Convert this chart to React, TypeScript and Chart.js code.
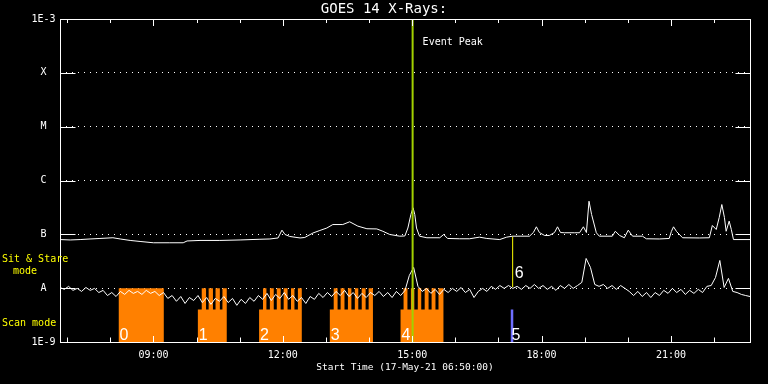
import React, { useEffect, useRef } from 'react';
import { Chart, registerables } from 'chart.js';

Chart.register(...registerables);

// ---------- text ----------
const TITLE = 'GOES 14 X-Rays:';
const X_TITLE = 'Start Time (17-May-21 06:50:00)';
const EVENT_LABEL = 'Event Peak';
const SIDE_LABEL_1 = 'Sit & Stare';
const SIDE_LABEL_2 = 'mode';
const SIDE_LABEL_3 = 'Scan mode';

// ---------- axes ----------
const X_MIN = 6.8333333; // 06:50
const X_MAX = 22.8333333; // 22:50
const HOUR_TICKS = [7, 8, 9, 10, 11, 12, 13, 14, 15, 16, 17, 18, 19, 20, 21, 22];
const Y_MIN = 1e-9;
const Y_MAX = 1e-3;
const Y_TICK_VALUES = [1e-9, 1e-8, 1e-7, 1e-6, 1e-5, 1e-4, 1e-3];
const Y_TICK_LABELS = ['1E-9', 'A', 'B', 'C', 'M', 'X', '1E-3'];

// ---------- long channel (units of 1e-9 W/m^2) ----------
const LONG_TIMES = [
  6.83, 7.07, 7.30, 7.53, 7.76, 8.06, 8.23, 8.46, 8.69, 9.00,
  9.38, 9.69, 9.78, 10.08, 10.54, 11.01, 11.47, 11.70, 11.89, 11.98,
  12.05, 12.16, 12.40, 12.51, 12.70, 12.86, 13.02, 13.16, 13.39, 13.55,
  13.74, 13.95, 14.18, 14.32, 14.48, 14.71, 14.83, 14.90, 14.97, 15.02,
  15.06, 15.10, 15.17, 15.34, 15.64, 15.73, 15.82, 16.10, 16.33, 16.56,
  16.73, 17.03, 17.19, 17.33, 17.72, 17.81, 17.88, 17.95, 18.07, 18.18,
  18.30, 18.37, 18.44, 18.53, 18.76, 18.88, 18.97, 19.04, 19.10, 19.16,
  19.27, 19.34, 19.64, 19.71, 19.81, 19.92, 20.01, 20.11, 20.34, 20.43,
  20.73, 20.96, 21.01, 21.06, 21.13, 21.27, 21.66, 21.89, 21.96, 22.05,
  22.12, 22.18, 22.24, 22.28, 22.35, 22.40, 22.45, 22.84,
];
const LONG_FLUX_1E9 = [
  80, 78.6, 80, 82, 83.8, 86.4, 82, 77, 73.7, 69.7,
  69.7, 69.7, 75.3, 77, 77, 78.6, 81, 82, 85.6, 119.5,
  99.4, 91.3, 85.6, 87.5, 106, 118, 131, 152, 152, 171,
  142, 127, 126, 114, 99.4, 92.4, 93.2, 131, 234, 311,
  234, 131, 92.4, 86.4, 86.4, 99.4, 83.8, 82.7, 82.7, 88.6,
  83.8, 80, 88.6, 92.4, 92.4, 108, 138, 108, 95.3, 95.3,
  108, 138, 108, 107, 107, 107, 138, 108, 412, 234,
  107, 92.4, 92.4, 114, 95.3, 86.4, 119.5, 92.4, 92.4, 82.7,
  82, 83.8, 113, 138, 113, 86.4, 85.6, 86.4, 146, 123,
  206, 358, 206, 114, 176, 123, 80, 80,
];

// ---------- short channel, one sample every 6 minutes from 06:50 (units of 1e-9 W/m^2) ----------
const SHORT_START = 6.8333333;
const SHORT_STEP = 0.1;
const SHORT_FLUX_1E9 = [
  10.3, 9.5, 10.8, 9.1, 9.9, 8.7, 10.3, 9.1, 9.9, 8.3,
  9.1, 7.3, 8.3, 7.0, 8.7, 7.65, 9.1, 8.0, 8.7, 7.65,
  9.1, 8.0, 8.7, 7.3, 8.3, 6.45, 7.3, 5.7, 7.0, 5.2,
  6.7, 5.9, 7.3, 5.4, 6.7, 5.0, 6.45, 5.7, 7.0, 5.4,
  6.45, 4.8, 6.2, 5.2, 6.7, 5.7, 7.3, 6.2, 8.0, 5.9,
  7.65, 6.45, 8.3, 6.2, 7.3, 5.7, 6.7, 5.2, 7.0, 6.2,
  8.0, 6.7, 8.3, 7.0, 8.7, 7.3, 9.1, 7.0, 8.3, 6.45,
  8.0, 6.7, 8.3, 7.3, 8.7, 7.0, 8.3, 6.7, 8.7, 7.3,
  9.1, 17.2, 24.3, 10.8, 8.7, 9.9, 8.0, 9.5, 7.65, 9.5,
  8.3, 9.9, 8.7, 10.3, 8.3, 9.5, 6.7, 8.7, 9.9, 8.7,
  10.8, 9.5, 11.2, 9.9, 11.2, 9.9, 10.8, 9.5, 11.2, 9.9,
  11.7, 9.9, 11.2, 9.5, 10.8, 9.1, 11.2, 9.9, 11.7, 9.9,
  11.2, 12.8, 35.6, 24.3, 11.7, 10.8, 11.7, 9.9, 11.2, 9.5,
  11.2, 9.9, 8.7, 7.3, 8.7, 7.0, 8.3, 6.7, 8.3, 7.3,
  9.1, 8.0, 9.9, 8.3, 9.5, 7.65, 9.1, 8.0, 9.5, 8.3,
  10.8, 11.2, 15.8, 32.7, 10.3, 15.2, 8.7, 8.3, 7.65, 7.3,
  7.0,
];
const FLUX_UNIT = 1e-9;

// ---------- scan-mode blocks ----------
const SCAN_LABELS = ['0', '1', '2', '3', '4'];
const SCAN_START = [8.19, 10.03, 11.45, 13.09, 14.73];
const SCAN_END = [9.24, 10.70, 12.44, 14.09, 15.73];
const SCAN_BASE = [1e-8, 4e-9, 4e-9, 4e-9, 4e-9];
const SCAN_TOP = 1e-8;
const TEETH_START = [
  10.12, 10.28, 10.44, 10.60,
  11.54, 11.70, 11.86, 12.02, 12.19, 12.35,
  13.18, 13.34, 13.51, 13.67, 13.83, 13.99,
  14.80, 14.97, 15.13, 15.29, 15.45, 15.61,
];
const TEETH_END = [
  10.22, 10.38, 10.54, 10.70,
  11.62, 11.79, 11.95, 12.11, 12.27, 12.44,
  13.27, 13.43, 13.59, 13.75, 13.92, 14.09,
  14.89, 15.05, 15.21, 15.38, 15.54, 15.73,
];

// ---------- markers ----------
const MARK5_LABEL = '5';
const MARK5_START = 17.28;
const MARK5_END = 17.35;
const MARK5_LEVEL = 4e-9;
const MARK6_LABEL = '6';
const MARK6_TIME = 17.33;
const MARK6_LOW = 1.05e-8;
const MARK6_HIGH = 9.1e-8;
const EVENT_TIME = 15.01;

const MONO = '"DejaVu Sans Mono", monospace';

function buildScanSteps() {
  const pts: { x: number; y: number }[] = [];
  SCAN_START.forEach((s, b) => {
    const e = SCAN_END[b];
    pts.push({ x: s, y: SCAN_BASE[b] });
    TEETH_START.forEach((ts, k) => {
      if (ts >= s && ts < e) {
        pts.push({ x: ts, y: SCAN_TOP });
        pts.push({ x: TEETH_END[k], y: SCAN_BASE[b] });
      }
    });
    pts.push({ x: e, y: Y_MIN });
  });
  return pts;
}

const overlayPlugin = {
  id: 'goesOverlay',
  afterDraw(chart: any) {
    const { ctx, chartArea: a, scales } = chart;
    const xs = scales.x;
    const ys = scales.y;
    const L = Math.floor(a.left) + 0.5;
    const R = Math.floor(a.right) + 0.5;
    const T = Math.floor(a.top) + 0.5;
    const B = Math.floor(a.bottom) + 0.5;
    ctx.save();
    ctx.strokeStyle = '#ffffff';
    ctx.lineWidth = 1;
    ctx.strokeRect(L, T, R - L, B - T);
    ctx.beginPath();
    for (let i = 1; i < Y_TICK_VALUES.length - 1; i++) {
      const py = Math.round(ys.getPixelForValue(Y_TICK_VALUES[i])) + 0.5;
      ctx.moveTo(L, py);
      ctx.lineTo(L + 15, py);
      ctx.moveTo(R - 15, py);
      ctx.lineTo(R, py);
    }
    HOUR_TICKS.forEach((h) => {
      const px = Math.round(xs.getPixelForValue(h)) + 0.5;
      const major = h % 3 === 0;
      ctx.moveTo(px, B);
      ctx.lineTo(px, B - (major ? 6.5 : 5));
      ctx.moveTo(px, T);
      ctx.lineTo(px, T + (major ? 6.5 : 3.5));
    });
    ctx.stroke();

    // block labels
    ctx.fillStyle = '#ffffff';
    ctx.font = '16px "Liberation Sans", sans-serif';
    ctx.textAlign = 'left';
    ctx.textBaseline = 'alphabetic';
    SCAN_LABELS.forEach((lab, b) => {
      ctx.fillText(lab, xs.getPixelForValue(SCAN_START[b]) + 1, B - 3);
    });
    ctx.fillText(MARK5_LABEL, xs.getPixelForValue(MARK5_START) + 1, B - 3);
    ctx.fillText(MARK6_LABEL, xs.getPixelForValue(MARK6_TIME) + 2, ys.getPixelForValue(MARK6_LOW) - 9);

    // event label
    ctx.font = '10px ' + MONO;
    ctx.textBaseline = 'middle';
    ctx.fillText(EVENT_LABEL, xs.getPixelForValue(EVENT_TIME) + 10, a.top + 23);

    // side labels
    ctx.fillStyle = '#ffff00';
    ctx.fillText(SIDE_LABEL_1, 2, 259);
    ctx.fillText(SIDE_LABEL_2, 13, 271);
    ctx.fillText(SIDE_LABEL_3, 2, 323);
    ctx.restore();
  },
};

export default function App() {
  const ref = useRef<HTMLCanvasElement | null>(null);

  useEffect(() => {
    if (!ref.current) return;
    const longData = LONG_TIMES.map((t, i) => ({ x: t, y: LONG_FLUX_1E9[i] * FLUX_UNIT }));
    const shortData = SHORT_FLUX_1E9.map((v, i) => ({ x: SHORT_START + i * SHORT_STEP, y: v * FLUX_UNIT }));

    const chart = new Chart(ref.current, {
      type: 'line',
      data: {
        datasets: [
          {
            data: [{ x: EVENT_TIME, y: Y_MIN }, { x: EVENT_TIME, y: Y_MAX }],
            borderColor: '#a2d000',
            borderWidth: 2,
            pointRadius: 0,
            order: 0,
          },
          {
            data: longData,
            borderColor: '#ffffff',
            borderWidth: 1,
            pointRadius: 0,
            tension: 0,
            order: 1,
          },
          {
            data: shortData,
            borderColor: '#ffffff',
            borderWidth: 1,
            pointRadius: 0,
            tension: 0,
            order: 1,
          },
          {
            data: [{ x: MARK6_TIME, y: MARK6_LOW }, { x: MARK6_TIME, y: MARK6_HIGH }],
            borderColor: '#ffff00',
            borderWidth: 1,
            pointRadius: 0,
            order: 1,
          },
          {
            data: buildScanSteps(),
            stepped: 'before',
            fill: 'start',
            backgroundColor: '#ff8000',
            borderWidth: 0,
            borderColor: 'rgba(0,0,0,0)',
            pointRadius: 0,
            order: 3,
          },
          {
            data: [{ x: MARK5_START, y: MARK5_LEVEL }, { x: MARK5_END, y: Y_MIN }],
            stepped: 'before',
            fill: 'start',
            backgroundColor: '#6e6eff',
            borderWidth: 0,
            borderColor: 'rgba(0,0,0,0)',
            pointRadius: 0,
            order: 3,
          },
        ] as any,
      },
      options: {
        animation: false,
        responsive: false,
        devicePixelRatio: 1,
        events: [],
        layout: { padding: 0 },
        plugins: {
          legend: { display: false },
          tooltip: { enabled: false },
          title: {
            display: true,
            text: TITLE,
            color: '#ffffff',
            font: { family: MONO, size: 14, weight: 'normal', lineHeight: 1.2 },
            padding: { top: 1.2, bottom: 1 },
          },
        },
        scales: {
          x: {
            type: 'linear',
            position: 'bottom',
            min: X_MIN,
            max: X_MAX,
            afterBuildTicks: (s: any) => {
              s.ticks = HOUR_TICKS.map((v) => ({ value: v }));
            },
            afterFit: (s: any) => {
              s.height = 42;
            },
            grid: { display: false, drawTicks: false },
            border: { display: false },
            ticks: {
              color: '#ffffff',
              font: { family: MONO, size: 10 },
              padding: 7,
              maxRotation: 0,
              autoSkip: false,
              callback: (v: any) => (Number(v) % 3 === 0 ? String(v).padStart(2, '0') + ':00' : ''),
            },
            title: {
              display: true,
              text: X_TITLE,
              color: '#ffffff',
              font: { family: MONO, size: 9.5, lineHeight: 1.2 },
              padding: { top: 0, bottom: 11 },
            },
          },
          y: {
            type: 'logarithmic',
            position: 'left',
            min: Y_MIN,
            max: Y_MAX,
            afterBuildTicks: (s: any) => {
              s.ticks = Y_TICK_VALUES.map((v) => ({ value: v }));
            },
            afterFit: (s: any) => {
              s.width = 60;
            },
            grid: {
              color: (c: any) =>
                c.index === 0 || c.index === Y_TICK_VALUES.length - 1 ? 'rgba(0,0,0,0)' : '#ffffff',
              lineWidth: 1,
              drawTicks: false,
            },
            border: { display: false, dash: [1, 5] },
            ticks: {
              color: '#ffffff',
              font: { family: MONO, size: 10 },
              crossAlign: 'center',
              padding: 4.5,
              autoSkip: false,
              callback: (_v: any, i: number) => Y_TICK_LABELS[i],
            },
          },
          y2: {
            type: 'linear',
            position: 'right',
            display: true,
            min: 0,
            max: 1,
            afterFit: (s: any) => {
              s.width = 18;
            },
            grid: { display: false, drawTicks: false },
            border: { display: false },
            ticks: { display: false },
          },
        },
      } as any,
      plugins: [overlayPlugin],
    });
    return () => chart.destroy();
  }, []);

  return (
    <div style={{ position: 'fixed', left: 0, top: 0, width: 768, height: 384, background: '#000' }}>
      <canvas ref={ref} width={768} height={384} style={{ display: 'block', background: '#000' }} />
    </div>
  );
}
